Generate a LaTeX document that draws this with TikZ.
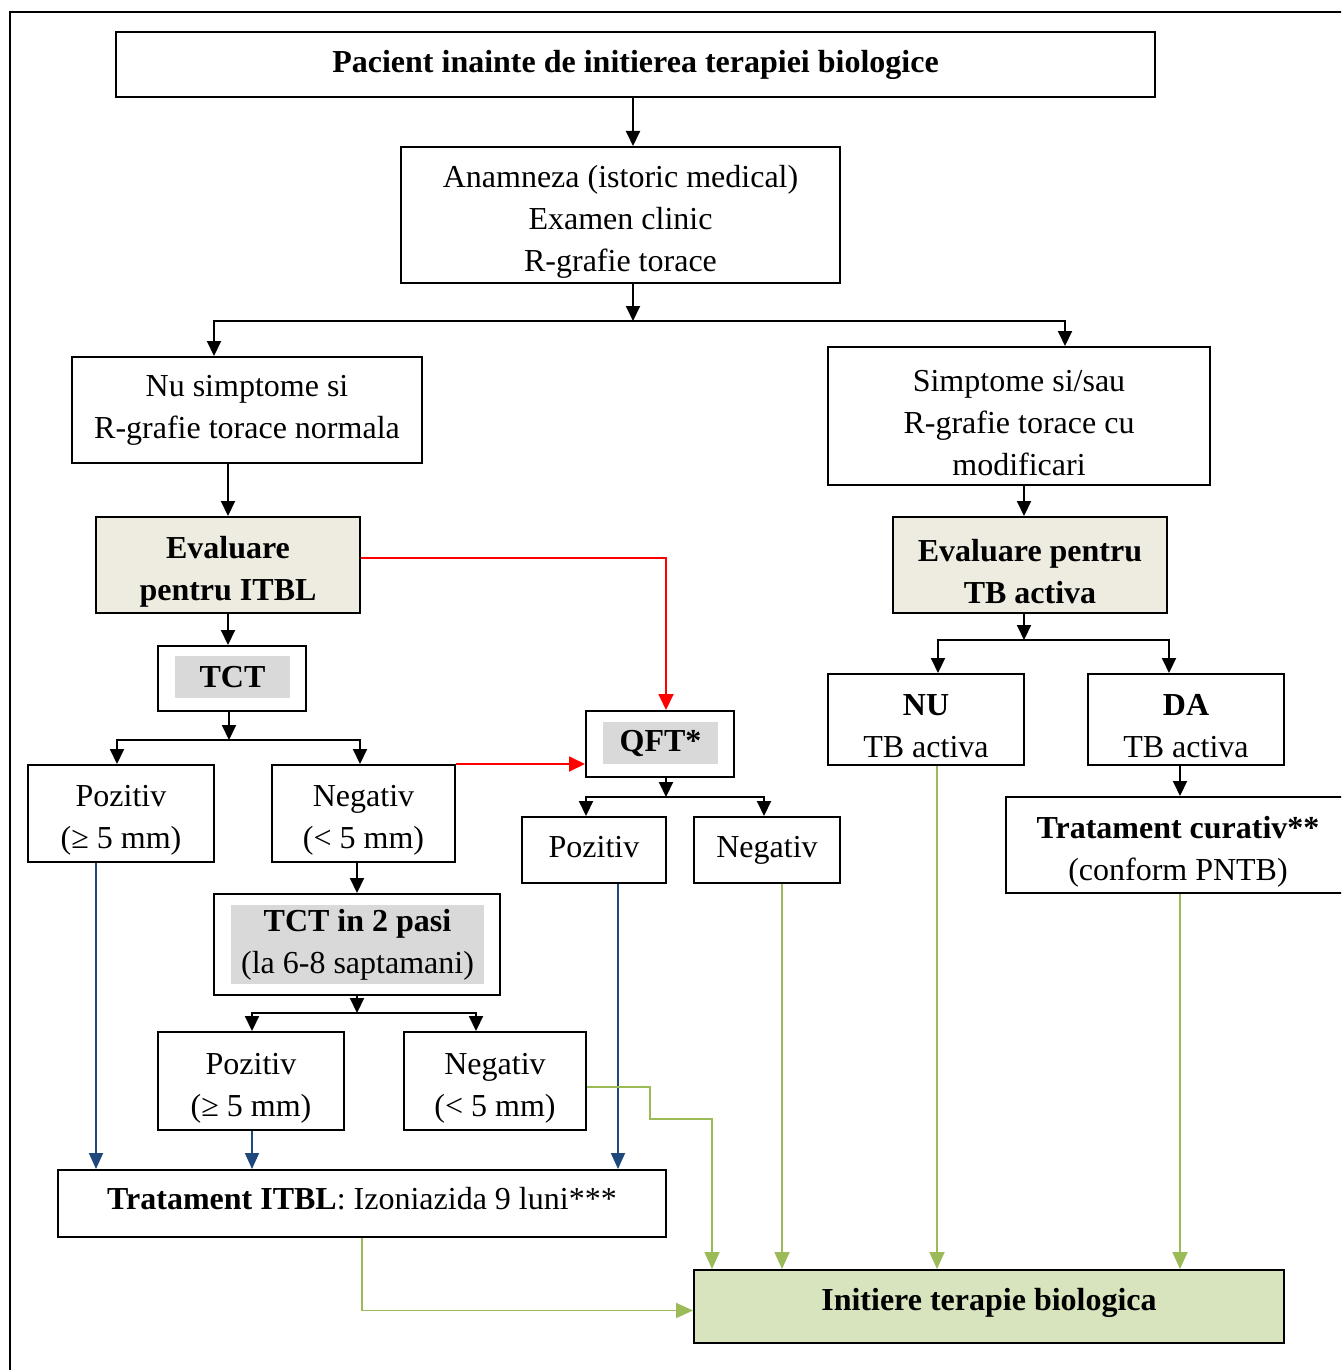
\documentclass[tikz,border=0pt]{standalone}
\usepackage{fontspec}
\setmainfont{Liberation Serif}
\usetikzlibrary{arrows.meta}
\definecolor{evalbeige}{HTML}{EEECE1}
\definecolor{testgray}{HTML}{D9D9D9}
\definecolor{initgreen}{HTML}{D7E4BD}
\definecolor{linegreen}{HTML}{9BBB59}
\definecolor{lineblue}{HTML}{1F497D}
\newcommand{\lineup}{\rule{0pt}{17.5pt}}
\begin{document}
\begin{tikzpicture}[x=0.5pt,y=-0.5pt,line cap=butt, line join=miter,
		box/.style={draw,line width=1pt,inner sep=0pt,align=center,font=\fontsize{16}{21}\selectfont},
		lifted/.style={text depth=#1},
		graybox/.style={fill=testgray,inner sep=0pt,align=center,font=\fontsize{16}{21}\selectfont},
		arr/.style={line width=1pt,-{Triangle[length=7.5pt,width=7pt]}},
		redarr/.style={red,line width=0.9pt,-{Triangle[length=8pt,width=7.5pt]}},
		bluearr/.style={lineblue,line width=0.9pt,-{Triangle[length=8pt,width=7pt]}},
		greenarr/.style={linegreen,line width=0.9pt,-{Triangle[length=8.5pt,width=7.5pt]}}]
			\clip (0,0) rectangle (1341,1370);
			\draw[line width=1pt] (10,12) rectangle (1360,1390);
			% top row
			\node[box,minimum width=519.5pt,minimum height=32.5pt] (start) at (635.5,64.5) {\textbf{Pacient inainte de initierea terapiei biologice}};
			\node[box,minimum width=219.5pt,minimum height=68pt] (anam) at (620.5,215) {\lineup Anamneza (istoric medical)\\Examen clinic\\R-grafie torace};
			\node[box,minimum width=175pt,minimum height=53pt] (nusimp) at (247,410) {Nu simptome si\\R-grafie torace normala};
			\node[box,minimum width=191pt,minimum height=69pt] (simp) at (1019,416) {\lineup Simptome si/sau\\R-grafie torace cu\\modificari};
			% evaluations
			\node[box,fill=evalbeige,minimum width=132pt,minimum height=48pt] (evalitbl) at (228,565) {\lineup\textbf{Evaluare}\\\textbf{pentru ITBL}};
			\node[box,fill=evalbeige,minimum width=137pt,minimum height=48pt] (evaltb) at (1030,565) {\lineup\textbf{Evaluare pentru}\\\textbf{TB activa}};
			% tests
			\node[box,minimum width=74pt,minimum height=32.5pt] (tct) at (232,678.5) {};
			\node[graybox,minimum width=57.5pt,minimum height=21pt] (tcttext) at (232.5,677) {\textbf{TCT}};
			\node[box,minimum width=74pt,minimum height=33pt] (qft) at (660,744) {};
			\node[graybox,minimum width=57.5pt,minimum height=21pt] (qfttext) at (660.5,743) {\textbf{QFT*}};
			\node[box,minimum width=93pt,minimum height=48.5pt] (poz1) at (121,813.5) {\lineup Pozitiv\\(≥ 5 mm)};
			\node[box,minimum width=91.5pt,minimum height=48.5pt] (neg1) at (363.5,813.5) {\lineup Negativ\\(< 5 mm)};
			\node[box,lifted=3pt,minimum width=72pt,minimum height=33pt] (poz2) at (594,850) {Pozitiv};
			\node[box,minimum width=73pt,minimum height=33pt] (neg2) at (767,850) {Negativ};
			\node[box,minimum width=143pt,minimum height=50.5pt] (tct2) at (357,944.5) {};
			\node[graybox,minimum width=126.5pt,minimum height=39.5pt] (tct2text) at (357.5,944.5) {\textbf{TCT in 2 pasi}\\(la 6-8 saptamani)};
			\node[box,minimum width=93pt,minimum height=49pt] (poz3) at (251,1081) {\lineup Pozitiv\\(≥ 5 mm)};
			\node[box,minimum width=91pt,minimum height=49pt] (neg3) at (495,1081) {\lineup Negativ\\(< 5 mm)};
			\node[box,lifted=5pt,minimum width=304pt,minimum height=33.5pt] (itbl) at (362,1203.5) {\textbf{Tratament ITBL}: Izoniazida 9 luni***};
			\node[box,minimum width=98pt,minimum height=45.5pt] (nu) at (926,719.5) {\lineup\textbf{NU}\\TB activa};
			\node[box,minimum width=98pt,minimum height=45.5pt] (da) at (1186,719.5) {\lineup\textbf{DA}\\TB activa};
			\node[box,minimum width=172pt,minimum height=48pt] (cur) at (1178,845) {\lineup\textbf{Tratament curativ**}\\(conform PNTB)};
			\node[box,lifted=7.5pt,fill=initgreen,minimum width=295pt,minimum height=36.5pt] (init) at (989,1306.5) {\textbf{Initiere terapie biologica}};
			% junctions
			\coordinate (j1) at (633,321);
			\coordinate (j2) at (229,740);
			\coordinate (j3) at (666,797);
			\coordinate (j4) at (357,1013);
			\coordinate (j5) at (1024,640);
			\coordinate (g1) at (650,1119);
			\coordinate (g2) at (712,1119);
			% black connectors
			\draw[arr] (start.south -| j1) -- (anam.north -| j1);
			\draw[arr] (anam.south -| j1) -- (j1);
			\draw[arr] (j1) -| ([xshift=71.5pt]nusimp.north west);
			\draw[arr] (j1) -| ([xshift=119pt]simp.north west);
			\draw[arr] (nusimp.south -| evalitbl) -- (evalitbl.north);
			\draw[arr] (simp.south -| j5) -- (evaltb.north -| j5);
			\draw[arr] (evalitbl.south) -- (evalitbl.south |- tct.north);
			\draw[arr] (tct.south -| j2) -- (j2);
			\draw[arr] (j2) -| ([xshift=-2pt]poz1.north);
			\draw[arr] (j2) -| ([xshift=-1.75pt]neg1.north);
			\draw[arr] (qft.south -| j3) -- (j3);
			\draw[arr] (j3) -| ([xshift=-4pt]poz2.north);
			\draw[arr] (j3) -| ([xshift=-1.5pt]neg2.north);
			\draw[arr] (neg1.south -| tct2) -- (tct2.north);
			\draw[arr] (tct2.south) -- (j4);
			\draw[arr] (j4) -| ([xshift=0.5pt]poz3.north);
			\draw[arr] (j4) -| ([xshift=-9.5pt]neg3.north);
			\draw[arr] (evaltb.south -| j5) -- (j5);
			\draw[arr] (j5) -| ([xshift=6pt]nu.north);
			\draw[arr] (j5) -| ([xshift=-8.5pt]da.north);
			\draw[arr] ([xshift=-3pt]da.south) -- ([xshift=-3pt]da.south |- cur.north);
			% red connectors
			\draw[redarr] ([yshift=3.5pt]evalitbl.east) -| ([xshift=3pt]qft.north);
			\draw[redarr] (neg1.north east) -- (neg1.north east -| qft.west);
			% blue connectors
			\draw[bluearr] ([xshift=-12.5pt]poz1.south) -- ([xshift=-12.5pt]poz1.south |- itbl.north);
			\draw[bluearr] ([xshift=0.5pt]poz3.south) -- ([xshift=0.5pt]poz3.south |- itbl.north);
			\draw[bluearr] ([xshift=12pt]poz2.south) -- ([xshift=12pt]poz2.south |- itbl.north);
			% green connectors
			\draw[greenarr] (itbl.south) |- ([yshift=-2pt]init.west);
			\draw[greenarr] ([yshift=-3pt]neg3.east) -| (g1) -- (g2) -- (g2 |- init.north);
			\draw[greenarr] ([xshift=7.5pt]neg2.south) -- ([xshift=7.5pt]neg2.south |- init.north);
			\draw[greenarr] ([xshift=5.5pt]nu.south) -- ([xshift=5.5pt]nu.south |- init.north);
			\draw[greenarr] ([xshift=1pt]cur.south) -- ([xshift=1pt]cur.south |- init.north);
		\end{tikzpicture}
\end{document}
